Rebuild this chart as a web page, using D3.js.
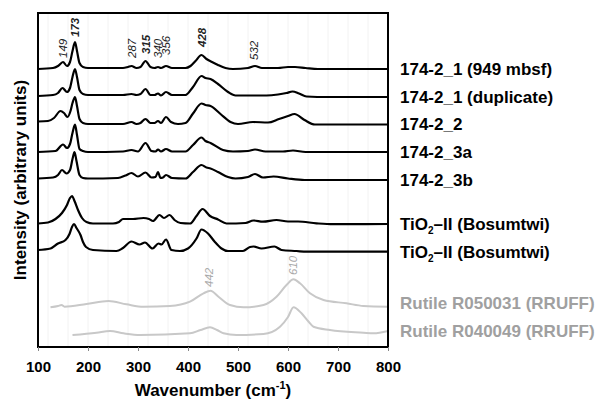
<!DOCTYPE html>
<html>
<head>
<meta charset="utf-8">
<script src="https://cdn.jsdelivr.net/npm/d3@7"></script>
<style>
  body { margin: 0; background: #fff; }
  svg { font-family: "Liberation Sans", Arial, sans-serif; }
</style>
</head>
<body>
<svg width="600" height="400"></svg>
<script>
// spectra: [wavenumber, stacked intensity (arbitrary units)]
var s1 = [[100,278],[130,279],[140,281],[150,285],[158,281],[164,285],[169,296],[174,305],[178,296],[183,284],[190,280],[200,279],[270,279],[280,280],[287,281],[297,279],[305,280],[315,286],[325,280],[333,279],[340,280],[346,279],[356,281],[368,279],[395,279],[405,281],[415,286],[427,292],[437,288],[448,285],[460,282],[475,279],[490,278],[520,279],[534,281],[548,279],[580,279],[600,280],[614,280],[635,279],[660,278],[800,278]];
var s2 = [[100,251],[130,252],[140,254],[149,259],[158,255],[164,259],[169,270],[174,278],[178,270],[183,257],[190,253],[200,252],[270,252],[287,253],[297,252],[305,253],[315,258],[325,252],[333,252],[340,253.5],[346,251.5],[356,255],[368,252],[395,252],[410,260],[427,271],[435,269],[445,268],[460,263],[480,255],[495,251.5],[534,251.5],[557,251.5],[580,252.5],[597,254],[609,255.5],[622,253.5],[637,250.5],[680,250],[800,250]];
var s3 = [[100,225.5],[120,226],[132,229],[145,236],[152,234],[159,230],[165,236],[169,244],[174,250],[178,241],[183,228],[190,224],[200,223],[270,223],[287,225],[297,223],[305,224],[315,228],[325,224],[333,224],[340,226],[346,224],[356,230],[366,225],[380,223],[395,224],[410,233.5],[427,243.5],[435,242],[445,241],[465,233],[485,225],[500,223],[530,225],[560,224.5],[582,228],[600,231],[613,233],[633,227],[654,222.5],[800,222.5]];
var s4 = [[100,195],[135,196],[150,202.5],[158,199],[164,203],[169,214],[174,222.5],[178,212],[183,198],[190,196],[200,195],[270,195.5],[287,197],[300,195.5],[315,204],[327,196],[335,195.5],[340,197.5],[346,195.5],[356,198],[368,195.5],[395,195.5],[410,202],[427,209.5],[435,206],[445,204],[470,197],[490,195.5],[520,196],[534,197.5],[555,195.5],[590,195.5],[610,196.5],[635,195],[800,195]];
var s5 = [[100,168.5],[130,169.5],[140,172],[148,177],[157,173.5],[164,177],[169,188],[173,195],[177,186],[183,172],[190,169],[200,168.5],[260,169],[275,171.5],[287,174],[300,170.5],[315,174.5],[327,169.5],[335,170],[340,175],[345,169],[350,169.5],[356,172],[368,169],[395,168.5],[410,175],[427,182],[437,179.5],[445,178.5],[460,175],[480,170],[495,168.5],[520,170],[534,173],[550,169.5],[571,170.5],[600,168.5],[633,167],[800,167]];
var s6 = [[100,123.5],[120,124.5],[135,128],[148,134],[158,142],[164,149],[168,151],[173,146],[180,137],[188,129],[197,125],[210,123.5],[250,123.5],[262,125],[270,128],[290,128],[311,129],[322,128],[330,126],[343,132],[352,129],[363,132],[373,127],[385,124],[404,123.5],[417,131],[429,138],[444,131],[460,127.5],[477,123.5],[515,124],[531,126.5],[550,125.3],[577,127],[600,125.5],[620,125.5],[657,123.7],[690,122.8],[800,123]];
var s7 = [[100,97],[125,98.5],[140,103.5],[155,107],[163,113],[168,120],[172,123],[177,119],[185,112],[190,105],[196,100],[210,97],[257,96],[270,99],[287,105.5],[303,102.5],[314,104.5],[329,98.5],[341,103.5],[347,102.5],[356,107.5],[367,97],[384,96],[400,98.5],[417,108.5],[427,117.5],[440,113.5],[453,105.5],[467,98.5],[480,96],[510,96],[524,100],[531,100.5],[547,98.5],[573,100.5],[587,97],[617,96],[637,95.3],[800,95.3]];
var r1 = [[125,39.7],[140,41],[147,42],[153,40.3],[197,43],[241,46],[277,42.7],[311,40.3],[364,41],[404,45.3],[431,53.7],[445,56.3],[461,50.3],[484,42],[511,39.7],[551,42],[577,50.3],[597,62],[611,67.7],[624,63.7],[644,53.7],[671,47],[717,43.7],[751,41],[800,40.3]];
var r2 = [[169,12],[217,14.3],[244,16],[271,13.7],[304,12],[404,13.7],[425,17],[444,19.7],[458,17],[471,13.7],[497,12],[551,13],[584,20.3],[600,30],[611,39.7],[627,33.7],[640,26],[651,20.3],[684,17],[751,14.3],[771,13.7],[800,16]];

var sampleSpectra = [s1, s2, s3, s4, s5, s6, s7];
var refSpectra = [r1, r2];
var sampleNames = ["174-2_1 (949 mbsf)", "174-2_1 (duplicate)", "174-2_2", "174-2_3a", "174-2_3b", "TiO2-II (Bosumtwi)", "TiO2-II (Bosumtwi)"];
var refNames = ["Rutile R050031 (RRUFF)", "Rutile R040049 (RRUFF)"];
var refNameAt = [44, 16];

// peak labels: wavenumber, where the label starts, bold?
var peakWn = [149, 173, 287, 315, 340, 356, 428, 532];
var peakAt = [289, 310, 289, 293, 289, 292, 300, 287];
var peakBold = [false, true, false, true, false, false, true, false];
var refPeakWn = [442, 610];
var refPeakAt = [60, 72];

var xTicks = [100, 200, 300, 400, 500, 600, 700, 800];

var svg = d3.select("svg");
var mLeft = 38, mRight = 388, mTop = 13, mBottom = 347;

var x = d3.scaleLinear().domain([100, 800]).range([mLeft, mRight]);
var y = d3.scaleLinear().domain([0, 334]).range([mBottom, mTop]);

// faint grid
svg.append("g")
  .selectAll("line")
  .data(d3.range(120, 800, 40))
  .enter().append("line")
  .attr("x1", d => x(d)).attr("x2", d => x(d))
  .attr("y1", mTop).attr("y2", mBottom)
  .attr("stroke", "#f2f2f2")
  .attr("stroke-width", 1);

var line = d3.line()
  .x(d => x(d[0]))
  .y(d => y(d[1]))
  .curve(d3.curveMonotoneX);

svg.append("g")
  .selectAll("path")
  .data(refSpectra)
  .enter().append("path")
  .attr("d", line)
  .attr("fill", "none")
  .attr("stroke", "#c8c8c8")
  .attr("stroke-width", 2);

svg.append("g")
  .selectAll("path")
  .data(sampleSpectra)
  .enter().append("path")
  .attr("d", line)
  .attr("fill", "none")
  .attr("stroke", "#000")
  .attr("stroke-width", 2.2)
  .attr("stroke-linejoin", "round");

// frame
svg.append("rect")
  .attr("x", mLeft).attr("y", mTop)
  .attr("width", mRight - mLeft).attr("height", mBottom - mTop)
  .attr("fill", "none")
  .attr("stroke", "#000")
  .attr("stroke-width", 2);

// x axis
var xAxis = svg.append("g")
  .attr("transform", "translate(0," + mBottom + ")")
  .call(d3.axisBottom(x).tickValues(xTicks).tickSize(4).tickPadding(10));
xAxis.select(".domain").remove();
xAxis.selectAll("line").attr("stroke", "#888");
xAxis.selectAll("text")
  .attr("font-family", "Liberation Sans, Arial, sans-serif")
  .attr("font-size", 15)
  .attr("font-weight", "bold")
  .attr("fill", "#000");

var title = svg.append("text")
  .attr("x", (mLeft + mRight) / 2)
  .attr("y", 396)
  .attr("text-anchor", "middle")
  .attr("font-size", 17)
  .attr("font-weight", "bold");
title.append("tspan").text("Wavenumber (cm");
title.append("tspan").attr("font-size", 11).attr("dy", -7).text("-1");
title.append("tspan").attr("dy", 7).text(")");

svg.append("text")
  .attr("transform", "translate(26," + ((mTop + mBottom) / 2) + ") rotate(-90)")
  .attr("text-anchor", "middle")
  .attr("font-size", 17)
  .attr("font-weight", "bold")
  .text("Intensity (arbitrary units)");

// peak labels
svg.append("g")
  .selectAll("text")
  .data(peakWn)
  .enter().append("text")
  .attr("transform", (d, i) => "translate(" + x(d) + "," + y(peakAt[i]) + ") rotate(-90)")
  .attr("dy", "0.35em")
  .attr("font-size", 11.5)
  .attr("font-style", "italic")
  .attr("font-weight", (d, i) => peakBold[i] ? "bold" : "normal")
  .attr("fill", "#222")
  .text(d => d);

svg.append("g")
  .selectAll("text")
  .data(refPeakWn)
  .enter().append("text")
  .attr("transform", (d, i) => "translate(" + x(d) + "," + y(refPeakAt[i]) + ") rotate(-90)")
  .attr("dy", "0.35em")
  .attr("font-size", 11.5)
  .attr("font-style", "italic")
  .attr("fill", "#a8a8a8")
  .text(d => d);

// spectrum names at the right end of each trace
function addName(name, yVal, color) {
  var t = svg.append("text")
    .attr("x", 400)
    .attr("y", y(yVal))
    .attr("dy", "0.35em")
    .attr("font-size", 17)
    .attr("font-weight", "bold")
    .attr("fill", color);
  if (name.indexOf("TiO2") === 0) {
    t.append("tspan").text("TiO");
    t.append("tspan").attr("font-size", 10).attr("dy", 4).text("2");
    t.append("tspan").attr("dy", -4).text("\u2013II (Bosumtwi)");
  } else {
    t.text(name);
  }
}
sampleNames.forEach((n, i) => addName(n, sampleSpectra[i][sampleSpectra[i].length - 1][1], "#000"));
refNames.forEach((n, i) => addName(n, refNameAt[i], "#a0a0a0"));
</script>
</body>
</html>
